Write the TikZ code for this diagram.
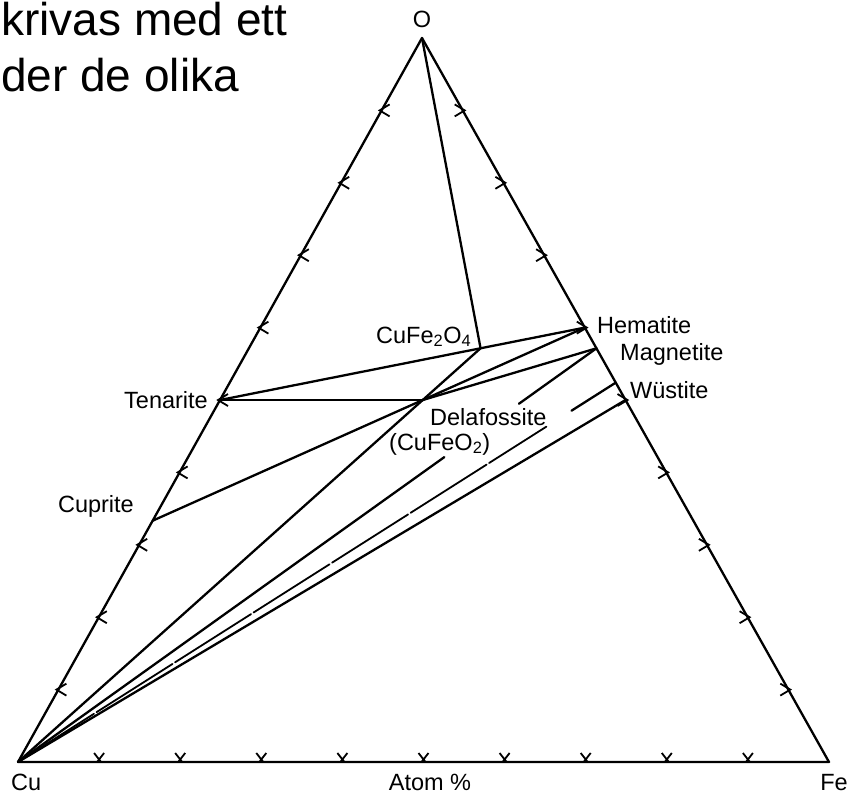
\documentclass[tikz,border=0pt]{standalone}
\usepackage{fontspec}
\setmainfont{Liberation Sans}
\usetikzlibrary{calc}

\tikzset{
  lbl/.style={inner sep=0pt, font=\fontsize{23.5}{28}\selectfont},
  big/.style={inner sep=0pt, font=\fontsize{46}{55}\selectfont},
  tie/.style={line width=2.3pt, line join=round, line cap=round},
  tickmark/.style={line width=1.8pt},
}

\begin{document}
\begin{tikzpicture}[x=1pt,y=-1pt]
    \useasboundingbox (0,0) rectangle (856,796);

    \coordinate (O) at (422,38);
    \coordinate (Cu) at (18,762);
    \coordinate (Fe) at (829,762);

    \coordinate (cupr) at ($(Cu)!0.3333!(O)$);
    \coordinate (ten) at ($(Cu)!0.5!(O)$);
    \coordinate (hem) at ($(O)!0.4!(Fe)$);
    \coordinate (mag) at ($(O)!0.4286!(Fe)$);
    \coordinate (wusup) at ($(O)!0.476!(Fe)$);
    \coordinate (wus) at ($(O)!0.5!(Fe)$);
    \coordinate (dela) at (barycentric cs:Cu=1,Fe=1,O=2);
    \coordinate (cufe) at (barycentric cs:Cu=1,Fe=2,O=4);

    \draw[tie] (Cu) -- (O) -- (Fe) -- cycle;

%    ticks every 10 atom %
    \foreach \k in {1,...,9}{
        \draw[tickmark] ($(Cu)!\k/10!(O)$) +(8,-6) -- +(-2,0) -- +(8,6);
        \draw[tickmark] ($(O)!\k/10!(Fe)$) +(-8,-6) -- +(2,0) -- +(-8,6);
        \draw[tickmark] ($(Cu)!\k/10!(Fe)$) +(-5,-9) -- +(2,0) +(5,-9) -- +(-2,0);
    }

    \draw[tie] (O) -- (cufe);
    \draw[tie] (ten) -- (cufe) -- (hem);
    \draw[tie] (ten) -- (dela);
    \draw[tie] (cupr) -- (dela);
    \draw[tie] (Cu) -- (cufe);
    \draw[tie] (dela) -- (hem);
    \draw[tie] (dela) -- (mag);

    \coordinate (magA) at ($(Cu)!0.737!(mag)$);
    \coordinate (magB) at ($(Cu)!0.866!(mag)$);
    \draw[tie] (Cu) -- (magA) (magB) -- (mag);

    \coordinate (wusA) at ($(Cu)!0.884!(wusup)$);
    \coordinate (wusB) at ($(Cu)!0.926!(wusup)$);
    \draw[tie, line width=1.8pt, dash pattern=on 90pt off 3pt] (Cu) -- (wusA);
    \draw[tie] (wusB) -- (wusup);
    \draw[tie] (Cu) -- (wus);

    \node[big, anchor=base west] (txta) at (1,35) {krivas med ett};
    \node[big, anchor=base west] (txtb) at (1,91) {der de olika};

    \node[lbl, anchor=base] (Olbl) at (422,27) {O};
    \node[lbl, anchor=base west] (Culbl) at (11,790) {Cu};
    \node[lbl, anchor=base] (atom) at (430,790) {Atom \%};
    \node[lbl, anchor=base east] (Felbl) at (848,790) {Fe};
    \node[lbl, anchor=base east] (tenlbl) at (208,408) {Tenarite};
    \node[lbl, anchor=base east] (cuprlbl) at (134,512) {Cuprite};
    \node[lbl, anchor=base west] (cufelbl) at (376,343) {CuFe\textsubscript{2}O\textsubscript{4}};
    \node[lbl, anchor=base west] (hemlbl) at (597,333) {Hematite};
    \node[lbl, anchor=base west] (maglbl) at (620,360) {Magnetite};
    \node[lbl, anchor=base west] (wuslbl) at (630,398) {Wüstite};
    \node[lbl, anchor=base west] (delalbl) at (430,425) {Delafossite};
    \node[lbl, anchor=base west] (delaflbl) at (389,450) {(CuFeO\textsubscript{2})};

\end{tikzpicture}
\end{document}
